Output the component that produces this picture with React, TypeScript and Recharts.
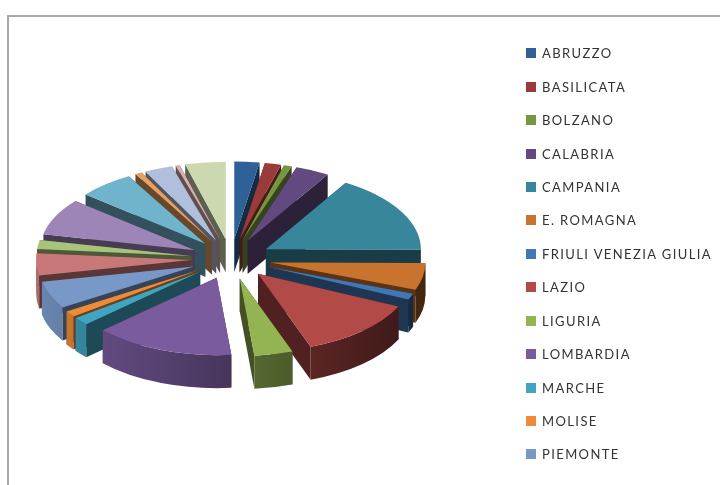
import { Legend, Pie, PieChart } from "recharts"

const regions = [
  "ABRUZZO", "BASILICATA", "BOLZANO", "CALABRIA", "CAMPANIA", "E. ROMAGNA", "FRIULI VENEZIA GIULIA",
  "LAZIO", "LIGURIA", "LOMBARDIA", "MARCHE", "MOLISE", "PIEMONTE", "PUGLIA", "SARDEGNA", "SICILIA",
  "TOSCANA", "TRENTO", "UMBRIA", "VALLE D'AOSTA", "VENETO",
]
const shares = [2.6, 1.7, 0.8, 3.5, 16.4, 5.6, 1.25, 12.5, 4.0, 14.6, 1.7, 1.25, 5.7, 4.6, 1.9, 7.6, 5.8, 0.7, 2.9, 0.4, 4.2]
const colors = [
  "#2f6096", "#9a3b39", "#76963f", "#62497f", "#38869c", "#c8742f", "#4277b6",
  "#b24a47", "#94b352", "#7a5c9e", "#41a4c0", "#ee8b3a", "#7898c8", "#c9787a",
  "#a8c47a", "#9d85b8", "#6fb4cc", "#e8a060", "#b0c0dc", "#d8b0b0", "#ccd8b0",
]
const legendCount = 13

const table = regions.map((name, i) => ({ name, value: shares[i] }))

const TILT = 0.5
const EXPLODE = 40
const DEPTH = 33

// back slices first, front slices last, otherwise the walls overlap wrong
const total = shares.reduce((a, b) => a + b, 0)
let run = 0
const mids = shares.map(v => {
  const mid = ((run + v / 2) / total) * 360
  run += v
  return mid
})
const paintOrder = shares
  .map((_, i) => i)
  .sort((a, b) => Math.abs(180 - mids[b]) - Math.abs(180 - mids[a]))

const shade = (hex: string, f: number) => {
  const n = parseInt(hex.slice(1), 16)
  const c = [n >> 16, (n >> 8) & 255, n & 255].map(v => Math.round(v * f))
  return `rgb(${c[0]},${c[1]},${c[2]})`
}

function Slice({ cx, cy, outerRadius, startAngle, endAngle, index }: any) {
  const a = outerRadius
  const b = outerRadius * TILT
  const t1 = 90 - startAngle
  const t2 = 90 - endAngle
  const mid = (((t1 + t2) / 2) * Math.PI) / 180
  const ox = cx + EXPLODE * Math.sin(mid)
  const oy = cy - EXPLODE * TILT * Math.cos(mid)
  const pt = (t: number, drop = 0) => {
    const r = (t * Math.PI) / 180
    return `${ox + a * Math.sin(r)} ${oy - b * Math.cos(r) + drop}`
  }
  const fill = colors[index]
  const top = `M${ox} ${oy}L${pt(t1)}A${a} ${b} 0 ${t2 - t1 > 180 ? 1 : 0} 1 ${pt(t2)}Z`
  const face = (t: number) => `M${ox} ${oy}L${pt(t)}L${pt(t, DEPTH)}L${ox} ${oy + DEPTH}Z`
  const w1 = Math.max(t1, 90)
  const w2 = Math.min(t2, 270)
  const id = `wall-${index}`
  return (
    <g>
      <defs>
        <linearGradient id={id} gradientUnits="userSpaceOnUse" x1={ox - a} x2={ox + a} y1={0} y2={0}>
          <stop offset="0" stopColor={shade(fill, 0.88)} />
          <stop offset="1" stopColor={shade(fill, 0.33)} />
        </linearGradient>
      </defs>
      <path d={face(t1)} fill={shade(fill, 0.45)} />
      <path d={face(t2)} fill={shade(fill, 0.45)} />
      {w2 > w1 && (
        <path
          d={`M${pt(w1)}A${a} ${b} 0 0 1 ${pt(w2)}L${pt(w2, DEPTH)}A${a} ${b} 0 0 0 ${pt(w1, DEPTH)}Z`}
          fill={`url(#${id})`}
        />
      )}
      <path d={top} fill={fill} />
    </g>
  )
}

const LegendList = () => (
  <div>
    {regions.slice(0, legendCount).map((name, i) => (
      <div key={name} style={{ display: "flex", alignItems: "center", height: 33.45 }}>
        <span style={{ width: 10, height: 10, background: colors[i], marginRight: 6, flex: "none" }} />
        <span style={{ fontFamily: "Lato", fontSize: 13, letterSpacing: 1.4, color: "#333", whiteSpace: "nowrap" }}>
          {name}
        </span>
      </div>
    ))}
  </div>
)

export default function App() {
  return (
    <div style={{ position: "absolute", left: 0, top: 0, width: 720, height: 485, overflow: "hidden", background: "#fff", filter: "blur(0.45px)" }}>
      <div style={{ position: "absolute", left: 7, top: 15, right: -4, bottom: -4, borderLeft: "2px solid #a8a8a8", borderTop: "2px solid #a8a8a8" }} />
      <PieChart width={720} height={485} margin={{ top: 0, right: 0, bottom: 0, left: 0 }} style={{ position: "absolute" }}>
        {paintOrder.map(k => (
          <Pie
            key={k}
            data={table}
            dataKey="value"
            nameKey="name"
            cx={231}
            cy={259}
            outerRadius={155}
            startAngle={90}
            endAngle={-270}
            stroke="none"
            legendType="none"
            isAnimationActive={false}
            shape={(p: any) => (p.index === k ? <Slice {...p} /> : <g />)}
          />
        ))}
        <Legend
          layout="vertical"
          align="right"
          verticalAlign="top"
          wrapperStyle={{ left: 526, top: 36.5, width: 194 }}
          content={LegendList}
        />
      </PieChart>
    </div>
  )
}
